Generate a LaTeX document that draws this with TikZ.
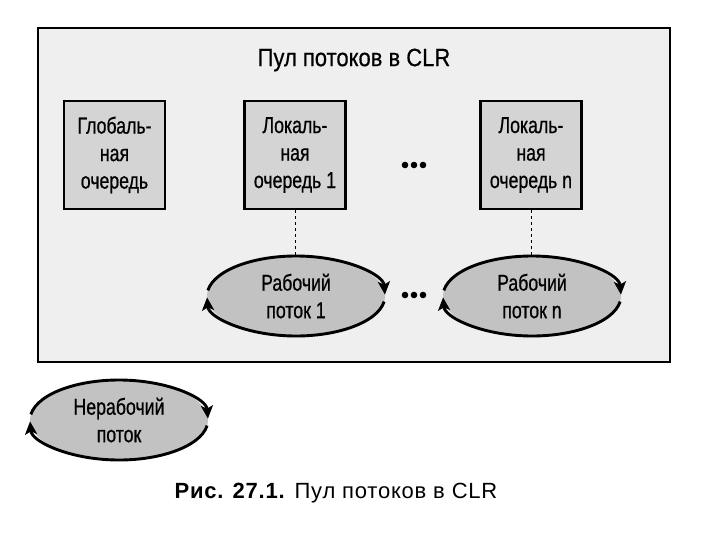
\documentclass[tikz,border=0pt]{standalone}
\usepackage{fontspec}
\setmainfont{Liberation Sans}
\newfontfamily\narrowfont{Liberation Sans}[FakeStretch=0.77,FakeBold=0.7]
\newfontfamily\titlefont{Liberation Sans}[FakeStretch=0.88,FakeBold=0.5]
\newfontfamily\capfont{Liberation Sans}[LetterSpace=3.5]
\usetikzlibrary{shapes.geometric,arrows.meta}
\definecolor{poolbg}{HTML}{EFEFEF}
\definecolor{boxfill}{HTML}{D4D4D4}
\definecolor{ellfill}{HTML}{C2C2C2}
\tikzset{
  qbox/.style={draw=black, line width=2.6pt, fill=boxfill, minimum width=101pt, minimum height=108pt,
    inner sep=0pt, align=center, font=\narrowfont\fontsize{23}{27.5}\selectfont},
  thr/.style={ellipse, fill=ellfill, minimum width=178pt, minimum height=80pt, inner sep=0pt,
    align=center, font=\narrowfont\fontsize{23}{27.5}\selectfont},
  ring/.style={line width=2.9pt, -{Stealth[length=13pt,width=12pt,inset=3pt]}},
  link/.style={line width=1pt, dash pattern=on 3pt off 3pt},
  dot/.style={fill=black}
}
\newcommand{\ringarcs}[1]{%
  \draw[ring] ([shift={(172:89pt and 40pt)}]#1.center) arc[start angle=172, end angle=2, x radius=89pt, y radius=40pt];
  \draw[ring] ([shift={(-8:89pt and 40pt)}]#1.center) arc[start angle=-8, end angle=-178, x radius=89pt, y radius=40pt];
}
\newcommand{\threedots}[2]{%
  \fill[dot] (#1-9,#2) circle[radius=3.3pt];
  \fill[dot] (#1,#2) circle[radius=3.3pt];
  \fill[dot] (#1+9,#2) circle[radius=3.3pt];
}
\begin{document}
\begin{tikzpicture}[x=1pt,y=-1pt]
\useasboundingbox (0,0) rectangle (720,546);
\node[draw=black, line width=1.8pt, fill=poolbg, minimum width=632pt, minimum height=334pt, inner sep=0pt] (pool) at (354,195) {};
\node[font=\titlefont\fontsize{25}{25}\selectfont] (title) at (354,60) {Пул потоков в CLR};
\node[qbox] (gq) at (114.5,155) {Глобаль-\\ная\\очередь};
\node[qbox] (lq1) at (295,155) {Локаль-\\ная\\очередь 1};
\node[qbox] (lqn) at (531,155) {Локаль-\\ная\\очередь n};
\threedots{414}{165}
\node[thr] (w1) at (296,296) {Рабочий\\поток 1};
\node[thr] (wn) at (532,296) {Рабочий\\поток n};
\threedots{414}{295}
\node[thr] (nw) at (119,420) {Нерабочий\\поток};
\draw[link] (lq1.south) -- (w1.north -| lq1.south);
\draw[link] (lqn.south) -- (wn.north -| lqn.south);
\ringarcs{w1}
\ringarcs{wn}
\ringarcs{nw}
\node[font=\capfont\fontsize{22}{22}\selectfont] (cap) at (336,493) {\textbf{Рис. 27.1.} Пул потоков в CLR};
\end{tikzpicture}
\end{document}
